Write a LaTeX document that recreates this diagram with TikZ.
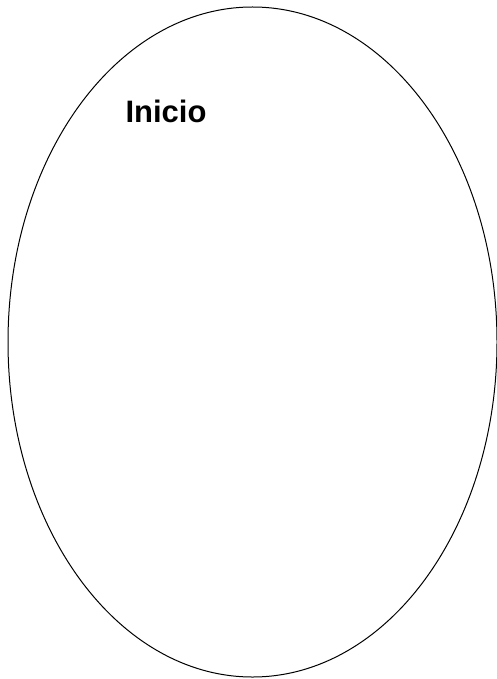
\documentclass[tikz,border=0pt]{standalone}
\usepackage{fontspec}
\setmainfont{Liberation Sans}
\usetikzlibrary{shapes.geometric}

\begin{document}
\begin{tikzpicture}[x=1pt,y=-1pt]
\useasboundingbox (0,0) rectangle (497,679);
% start symbol
\node[draw,ellipse,line width=1pt,minimum width=489pt,minimum height=670pt,inner sep=0pt] (inicio) at (252.5,342) {};
\node[font=\fontsize{31}{37}\bfseries\selectfont,anchor=base] (lbl) at (166,123) {Inicio};
\end{tikzpicture}
\end{document}
